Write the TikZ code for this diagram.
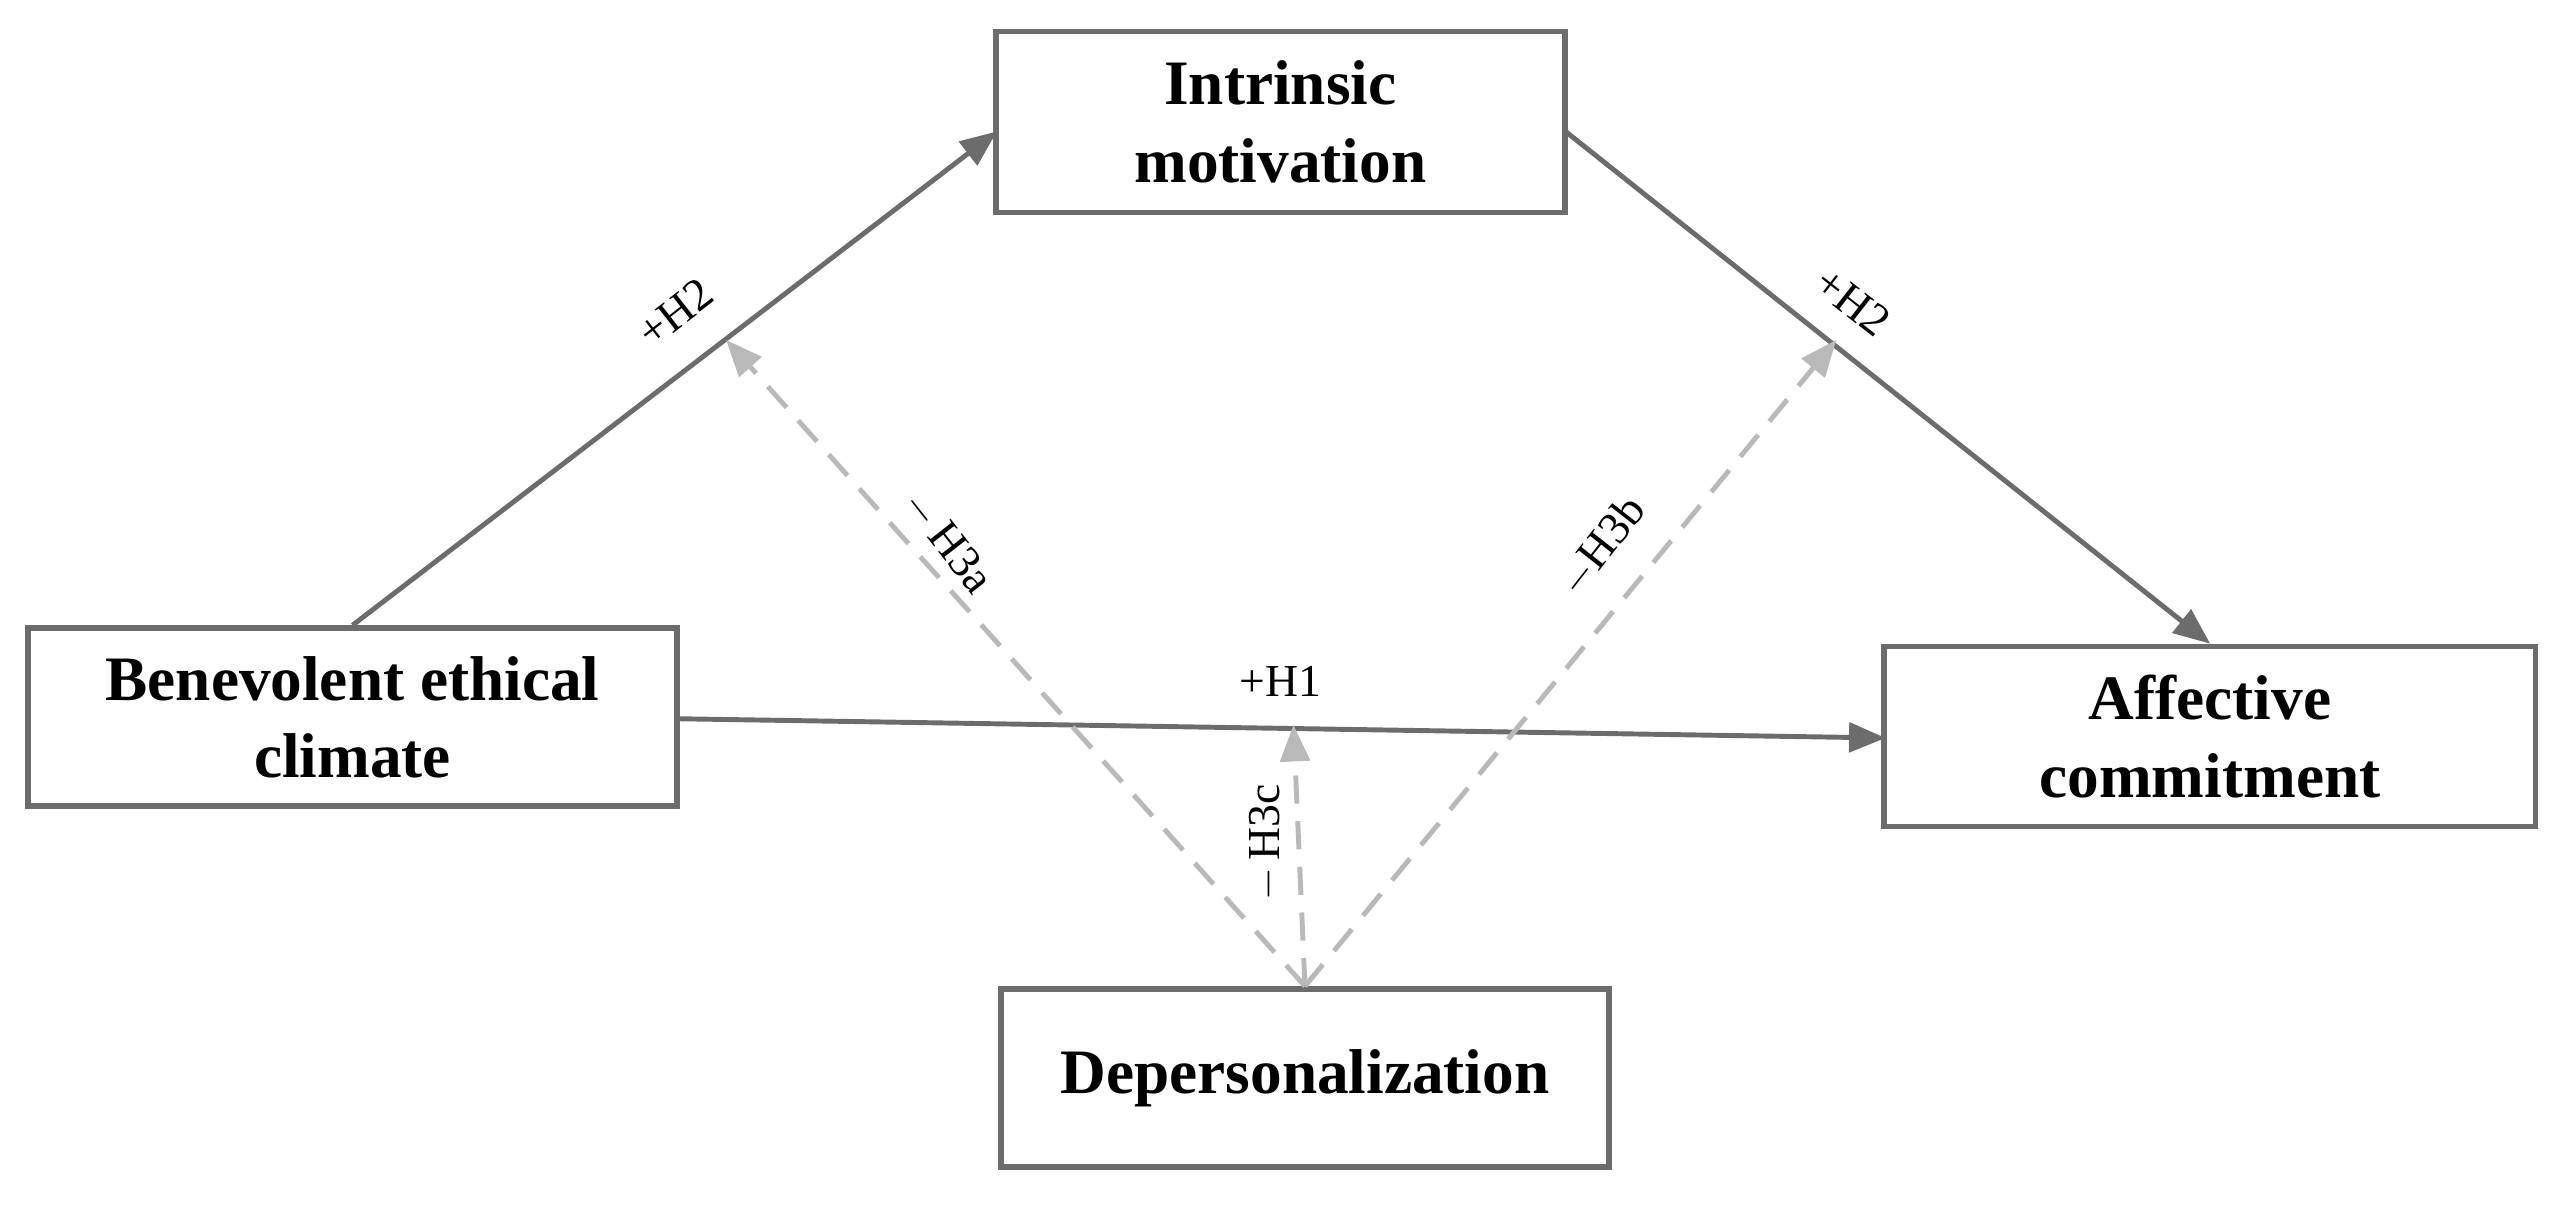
\documentclass[tikz,border=0pt]{standalone}
\usepackage{fontspec}
\setmainfont{Liberation Serif}
\usetikzlibrary{arrows}

\begin{document}
\begin{tikzpicture}[x=0.016394cm,y=-0.016034cm,
  box/.style={draw=gray!85!black,line width=1.6pt,fill=white,align=center,
    font=\fontsize{18}{22}\selectfont\bfseries},
  path/.style={draw=gray!85!black,line width=1.4pt,-triangle 45},
  mod/.style={draw=gray!55,line width=1.4pt,dash pattern=on 8pt off 5pt,-triangle 45},
  lab/.style={font=\fontsize{13}{15}\selectfont}]
\useasboundingbox (0,0) rectangle (1564,764);
% boxes
\node[box,minimum width=5.69cm,minimum height=1.81cm] (intr) at (781,76) {Intrinsic\\motivation};
\node[box,minimum width=6.49cm,minimum height=1.78cm] (ben) at (215,447) {Benevolent ethical\\climate};
\node[box,minimum width=6.51cm,minimum height=1.80cm] (aff) at (1348,459) {Affective\\commitment};
\node[box,minimum width=6.08cm,minimum height=1.78cm] (dep) at (796,672) {Depersonalization};
% points on the box edges
\coordinate (benRight) at (413,448);
\coordinate (imLeft) at (608,82);
\coordinate (imRight) at (955,82);
\coordinate (affLeft) at (1150,460);
\coordinate (h3a) at (443,212);
\coordinate (h3b) at (1120,212);
\coordinate (h3c) at (789,452);
% paths
\draw[path] (ben.north) -- (imLeft);
\draw[path] (imRight) -- (aff.north);
\draw[path] (benRight) -- (affLeft);
\draw[mod] (dep.north) -- (h3a);
\draw[mod] (dep.north) -- (h3b);
\draw[mod] (dep.north) -- (h3c);
% labels
\node[lab,rotate=38] (l1) at (412,195) {+H2};
\node[lab,rotate=-38] (l2) at (1130,188) {+H2};
\node[lab] (l3) at (781,425) {+H1};
\node[lab,rotate=-52] (l4) at (578,338) {$-$\,H3a};
\node[lab,rotate=52] (l5) at (977,340) {$-$H3b};
\node[lab,rotate=90] (l6) at (772,525) {$-$\,H3c};
\end{tikzpicture}
\end{document}
